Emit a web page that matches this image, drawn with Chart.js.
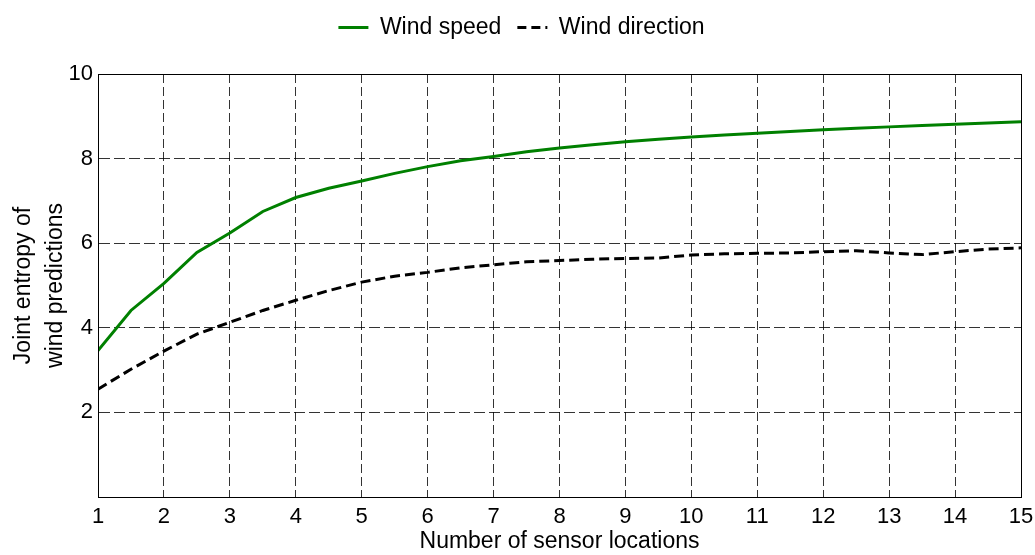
<!DOCTYPE html>
<html>
<head>
<meta charset="utf-8">
<script src="https://cdn.jsdelivr.net/npm/chart.js@4.4.1/dist/chart.umd.min.js"></script>
<style>
  html, body { margin: 0; padding: 0; background: #ffffff; }
  #wrap { width: 1035px; height: 555px; position: relative; }
</style>
</head>
<body>
<div id="wrap"><canvas id="chart"></canvas></div>
<script>
// Number of sensor locations (half-step sampling)
const sensorCounts = [1, 1.5, 2, 2.5, 3, 3.5, 4, 4.5, 5, 5.5, 6, 6.5, 7, 7.5, 8,
                      8.5, 9, 9.5, 10, 10.5, 11, 11.5, 12, 12.5, 13, 13.5, 14, 14.5, 15];

// Joint entropy of wind-speed predictions
const windSpeed = [3.46, 4.41, 5.05, 5.78, 6.24, 6.75, 7.08, 7.30, 7.47, 7.65, 7.81, 7.95, 8.05, 8.16, 8.25,
                   8.33, 8.40, 8.46, 8.51, 8.56, 8.60, 8.64, 8.68, 8.72, 8.75, 8.78, 8.81, 8.84, 8.87];

// Joint entropy of wind-direction predictions
const windDirection = [2.55, 3.02, 3.45, 3.85, 4.13, 4.41, 4.65, 4.88, 5.08, 5.22, 5.31, 5.42, 5.49, 5.56, 5.59,
                       5.62, 5.64, 5.65, 5.72, 5.75, 5.76, 5.77, 5.80, 5.82, 5.77, 5.73, 5.80, 5.86, 5.89];

const xTickValues = [1, 2, 3, 4, 5, 6, 7, 8, 9, 10, 11, 12, 13, 14, 15];
const yTickValues = [2, 4, 6, 8, 10];

const FONT = "'Liberation Sans', Arial, Helvetica, sans-serif";

// Solid box round the plotting area
const frameBox = {
  id: 'frameBox',
  afterDraw(chart) {
    const { ctx, chartArea: a } = chart;
    ctx.save();
    ctx.strokeStyle = '#000000';
    ctx.lineWidth = 1;
    ctx.setLineDash([]);
    ctx.strokeRect(Math.round(a.left) + 0.5, Math.round(a.top) + 0.5,
                   Math.round(a.right - a.left), Math.round(a.bottom - a.top));
    ctx.restore();
  }
};

// Extra room between the legend row and the plot
const legendGap = {
  id: 'legendGap',
  beforeInit(chart) {
    const legend = chart.legend;
    if (!legend) return;
    const fit = legend.fit;
    legend.fit = function () {
      fit.call(this);
      this.height += 25;
    };
  }
};

const toPoints = (xs, ys) => xs.map((x, i) => ({ x: x, y: ys[i] }));

new Chart(document.getElementById('chart'), {
  type: 'line',
  data: {
    datasets: [
      {
        label: 'Wind speed',
        data: toPoints(sensorCounts, windSpeed),
        borderColor: '#008000',
        backgroundColor: '#008000',
        borderWidth: 3,
        pointRadius: 0,
        tension: 0,
        fill: false
      },
      {
        label: 'Wind direction',
        data: toPoints(sensorCounts, windDirection),
        borderColor: '#000000',
        backgroundColor: '#000000',
        borderWidth: 3,
        borderDash: [10, 5],
        pointRadius: 0,
        tension: 0,
        fill: false
      }
    ]
  },
  options: {
    responsive: true,
    maintainAspectRatio: false,
    animation: false,
    devicePixelRatio: 1,
    layout: { padding: { top: 0, right: 0, bottom: 0, left: 8 } },
    plugins: {
      tooltip: { enabled: false },
      legend: {
        display: true,
        position: 'top',
        align: 'center',
        labels: {
          usePointStyle: true,
          pointStyle: 'line',
          pointStyleWidth: 30,
          boxHeight: 10,
          padding: 16,
          color: '#000000',
          font: { family: FONT, size: 23 },
          generateLabels(chart) {
            const items = Chart.defaults.plugins.legend.labels.generateLabels(chart);
            items.forEach((item) => {
              const ds = chart.data.datasets[item.datasetIndex];
              item.lineDash = ds.borderDash ? [9, 5] : [];
              item.lineWidth = ds.borderWidth;
            });
            return items;
          }
        }
      }
    },
    scales: {
      x: {
        type: 'linear',
        min: 1,
        max: 15,
        afterBuildTicks(scale) { scale.ticks = xTickValues.map(v => ({ value: v })); },
        afterFit(scale) {
          scale.height = 58;
          scale.paddingRight = 14;
        },
        ticks: {
          color: '#000000',
          padding: 7,
          maxRotation: 0,
          autoSkip: false,
          font: { family: FONT, size: 22 }
        },
        grid: { color: 'rgba(0,0,0,0.8)', lineWidth: 1, drawTicks: false },
        border: { display: true, color: '#000000', width: 1, dash: [9, 4] },
        title: {
          display: true,
          text: 'Number of sensor locations',
          color: '#000000',
          padding: { top: 0, bottom: 0 },
          font: { family: FONT, size: 23 }
        }
      },
      y: {
        type: 'linear',
        min: 0,
        max: 10,
        afterBuildTicks(scale) { scale.ticks = [0].concat(yTickValues).map(v => ({ value: v })); },
        afterFit(scale) { scale.width = 90; },
        ticks: {
          color: '#000000',
          padding: 5,
          font: { family: FONT, size: 22 },
          callback: (v) => (yTickValues.includes(v) ? String(v) : '')
        },
        grid: { color: 'rgba(0,0,0,0.8)', lineWidth: 1, drawTicks: false },
        border: { display: true, color: '#000000', width: 1, dash: [11, 4] },
        title: {
          display: true,
          text: ['Joint entropy of', 'wind predictions'],
          color: '#000000',
          padding: { top: 0, bottom: 0 },
          font: { family: FONT, size: 23, lineHeight: 1.37 }
        }
      }
    }
  },
  plugins: [frameBox, legendGap]
});
</script>
</body>
</html>
